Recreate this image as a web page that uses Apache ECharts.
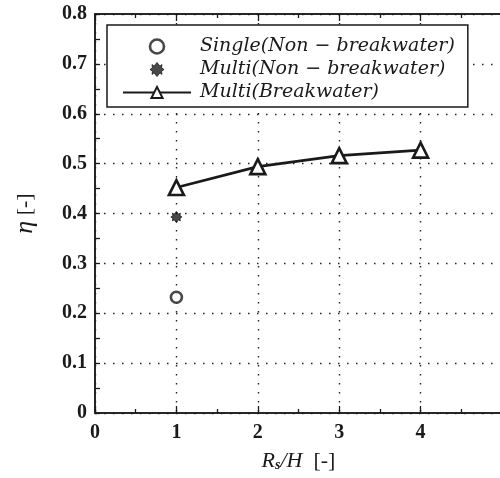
<!DOCTYPE html>
<html>
<head>
<meta charset="utf-8">
<script src="https://cdn.jsdelivr.net/npm/echarts@6/dist/echarts.min.js"></script>
<style>html,body{margin:0;padding:0;background:#fff;}#c{width:500px;height:478px;}</style>
</head>
<body>
<div id="c"></div>
<script>
const singleX = [1];
const singleY = [0.232];
const multiNonX = [1];
const multiNonY = [0.393];
const bwX = [1, 2, 3, 4];
const bwY = [0.452, 0.494, 0.516, 0.527];
const xTickLabels = ['0', '1', '2', '3', '4'];
const yTickLabels = ['0', '0.1', '0.2', '0.3', '0.4', '0.5', '0.6', '0.7', '0.8'];
const seriesNames = ['Single(Non \u2212 breakwater)', 'Multi(Non \u2212 breakwater)', 'Multi(Breakwater)'];

const zip = (xs, ys) => xs.map((x, i) => [x, ys[i]]);
const asterisk = 'path://M10,0L14.2,5.2L17.07,2.93L16.5,7.4L20,10L16.5,12.6L17.07,17.07L14.2,14.8L10,20L5.8,14.8L2.93,17.07L3.5,12.6L0,10L3.5,7.4L2.93,2.93L5.8,5.2Z';
const FONT = '"Liberation Serif", "DejaVu Serif", serif';
const LFONT = '"DejaVu Serif", serif';
const ink = '#1a1a1a';
const dotted = { color: '#222', width: 1.4, type: [1.5, 7.5] };

const circleStyle = { color: '#fff', borderColor: ink, borderWidth: 2.6 };
const starStyle = { color: ink, borderColor: ink, borderWidth: 1 };
const triStyle = { color: '#fff', borderColor: ink, borderWidth: 2.6 };

const chart = echarts.init(document.getElementById('c'));
chart.setOption({
  animation: false,
  backgroundColor: '#fff',
  grid: { left: 95, top: 14, right: -2, bottom: 65, outerBoundsMode: 'none', containLabel: false, show: true, borderColor: ink, borderWidth: 1.5 },
  legend: {
    orient: 'vertical', left: 107, top: 25,
    padding: [12, 13, 5, 15],
    itemWidth: 68, itemHeight: 14, itemGap: 4,
    borderColor: ink, borderWidth: 1.5, backgroundColor: '#fff',
    textStyle: { fontFamily: LFONT, fontStyle: 'italic', fontSize: 19, color: ink, lineHeight: 19, padding: [0, 0, 0, 4] },
    data: [
      { name: seriesNames[0], icon: 'circle', itemStyle: circleStyle },
      { name: seriesNames[1], icon: asterisk, itemStyle: starStyle },
      { name: seriesNames[2] }
    ]
  },
  xAxis: [{
    type: 'value', min: 0, max: 5, interval: 1,
    name: '{i|R}{s|s}{i|/H}  [-]', nameLocation: 'middle', nameGap: 37,
    nameTextStyle: { fontFamily: FONT, fontSize: 22, color: ink,
      rich: { i: { fontFamily: FONT, fontStyle: 'italic', fontSize: 22, color: ink }, s: { fontFamily: FONT, fontStyle: 'italic', fontWeight: 'bold', fontSize: 14, color: ink, verticalAlign: 'bottom', padding: [8, 0, 0, 0] } } },
    axisLine: { lineStyle: { color: ink, width: 1.5 } },
    axisTick: { inside: true, length: 7, lineStyle: { color: ink, width: 1.3 } },
    minorTick: { show: true, splitNumber: 2, length: 4, lineStyle: { color: ink, width: 1.3 } },
    axisLabel: { margin: 10, fontFamily: FONT, fontWeight: 'bold', fontSize: 20, color: ink,
      formatter: v => (v < xTickLabels.length ? xTickLabels[v] : '') },
    splitLine: { show: true, lineStyle: dotted }
  }, {
    type: 'value', position: 'top', min: 0, max: 5, interval: 1,
    axisLine: { show: true, lineStyle: { color: ink, width: 1.5 } },
    axisTick: { show: true, inside: true, length: 7, lineStyle: { color: ink, width: 1.3 } },
    minorTick: { show: true, splitNumber: 2, length: 4, lineStyle: { color: ink, width: 1.3 } },
    axisLabel: { show: false }, splitLine: { show: false }
  }],
  yAxis: {
    type: 'value', min: 0, max: 0.8, interval: 0.1,
    name: '{i|\u03b7} [-]', nameLocation: 'middle', nameGap: 57,
    nameTextStyle: { fontFamily: FONT, fontSize: 22, color: ink,
      rich: { i: { fontFamily: FONT, fontStyle: 'italic', fontSize: 26, color: ink } } },
    axisLine: { lineStyle: { color: ink, width: 1.5 } },
    axisTick: { inside: true, length: 5, lineStyle: { color: ink, width: 1.3 } },
    minorTick: { show: true, splitNumber: 2, length: 5, lineStyle: { color: ink, width: 1.3 } },
    axisLabel: { margin: 8, fontFamily: FONT, fontWeight: 'bold', fontSize: 20, color: ink,
      formatter: v => yTickLabels[Math.round(v * 10)] },
    splitLine: { show: true, lineStyle: dotted }
  },
  series: [{
    name: seriesNames[0], type: 'scatter', data: zip(singleX, singleY),
    symbol: 'circle', symbolSize: 11, itemStyle: circleStyle
  }, {
    name: seriesNames[1], type: 'scatter', data: zip(multiNonX, multiNonY),
    symbol: asterisk, symbolSize: 11, itemStyle: starStyle
  }, {
    name: seriesNames[2], type: 'line', data: zip(bwX, bwY),
    symbol: 'triangle', symbolSize: 15, showSymbol: true,
    lineStyle: { color: ink, width: 2.6 },
    itemStyle: triStyle
  }]
});
</script>
</body>
</html>
